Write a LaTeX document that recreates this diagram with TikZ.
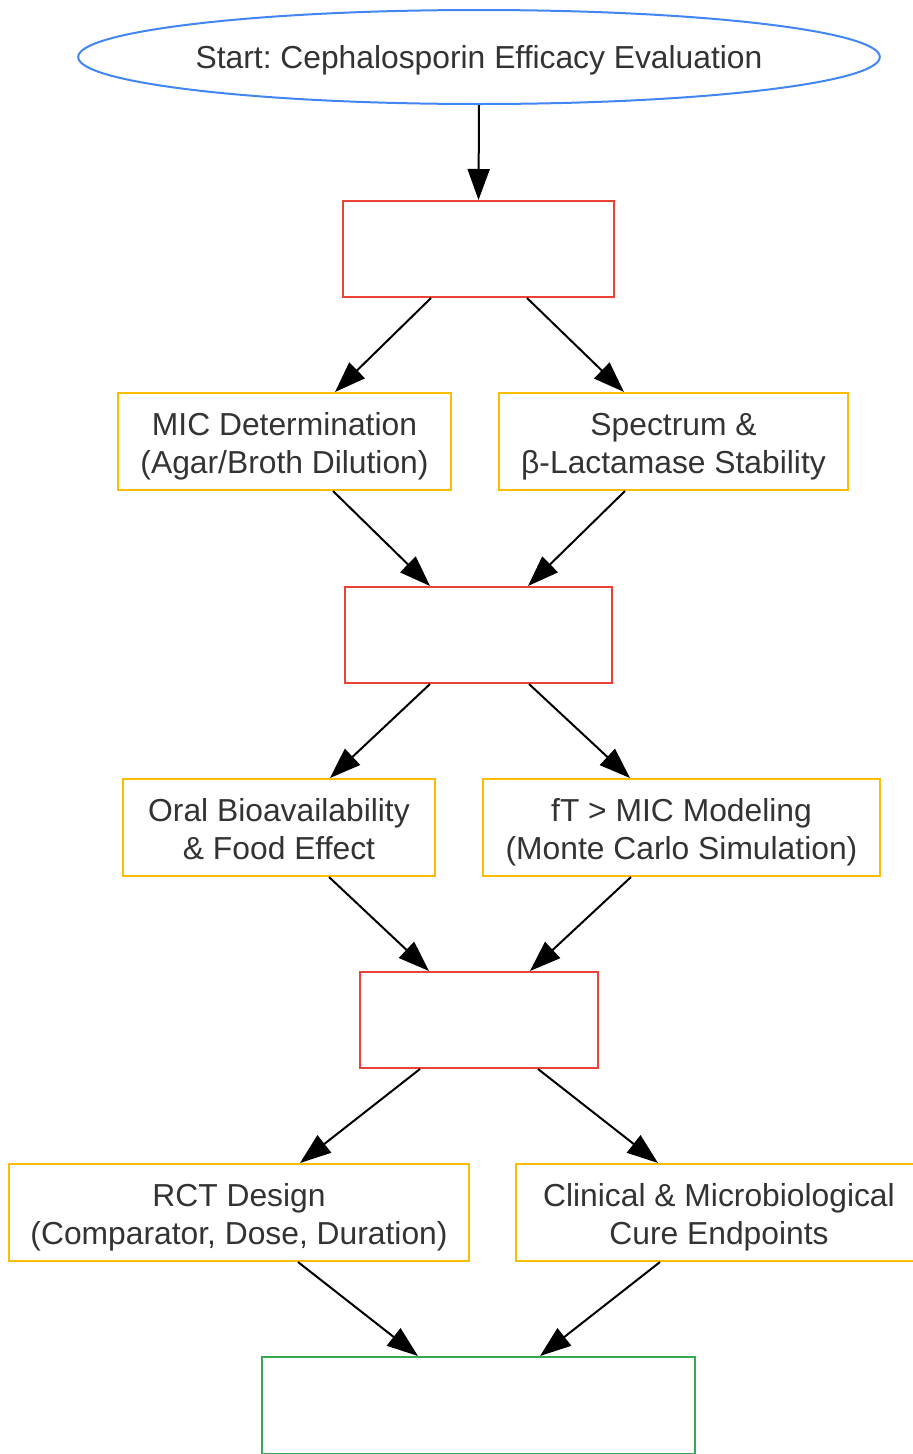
\documentclass[tikz,border=0pt]{standalone}
\usepackage{fontspec}
\setmainfont{Liberation Sans}
\frenchspacing
\usetikzlibrary{shapes.geometric,arrows.meta,calc}
\definecolor{gblue}{HTML}{4285F4}
\definecolor{gred}{HTML}{EA4335}
\definecolor{gyellow}{HTML}{FBBC04}
\definecolor{ggreen}{HTML}{34A853}
\definecolor{txt}{HTML}{333333}
\newcommand{\toppad}{\rule{0pt}{33.5pt}}
\newcommand{\botpad}{\rule[-6.8pt]{0pt}{6.8pt}}
\begin{document}
\begin{tikzpicture}[x=1pt,y=-1pt,
  every node/.style={font=\fontsize{31.8}{38}\selectfont, text=txt, align=center, line width=2pt, inner sep=0pt},
  startnode/.style={ellipse, draw=gblue, minimum width=782pt, minimum height=94pt},
  phase/.style={rectangle, draw=gred, minimum height=96pt},
  task/.style={rectangle, draw=gyellow, minimum height=97pt},
  endbox/.style={rectangle, draw=ggreen, minimum height=97pt},
  conn/.style={draw=black, line width=2pt, -{Triangle[length=31pt,width=22pt]}}]
\useasboundingbox (0,0) rectangle (913,1454);
\node[startnode] (start) at (479,57) {\rule{0pt}{30pt}Start: Cephalosporin Efficacy Evaluation};
\node[phase, minimum width=271pt] (b1) at (478.5,249) {};
\node[task, minimum width=333pt] (mic) at (284.5,441.5) {\toppad MIC Determination\\(Agar/Broth Dilution)\botpad};
\node[task, minimum width=349pt] (spec) at (673.5,441.5) {\toppad Spectrum \&\\β-Lactamase Stability\botpad};
\node[phase, minimum width=267pt] (b2) at (478.5,635) {};
\node[task, minimum width=312pt] (oral) at (279,827.5) {\toppad Oral Bioavailability\\\& Food Effect\botpad};
\node[task, minimum width=397pt] (ft) at (681.5,827.5) {\toppad fT > MIC Modeling\\(Monte Carlo Simulation)\botpad};
\node[phase, minimum width=238pt] (b3) at (479,1020) {};
\node[task, minimum width=460pt] (rct) at (239,1212.5) {\toppad RCT Design\\(Comparator, Dose, Duration)\botpad};
\node[task, minimum width=406pt] (clin) at (719,1212.5) {\toppad Clinical \& Microbiological\\Cure Endpoints\botpad};
\node[endbox, minimum width=433pt] (fin) at (478.5,1405.5) {};
\draw[conn] (start.south) -- (b1.north);
\draw[conn] ($(b1.south)+(-47.5,0)$) -- ($(mic.north)+(50.5,0)$);
\draw[conn] ($(b1.south)+(48.5,0)$) -- ($(spec.north)+(-49.5,0)$);
\draw[conn] ($(mic.south)+(48.5,0)$) -- ($(b2.north)+(-48.5,0)$);
\draw[conn] ($(spec.south)+(-48.5,0)$) -- ($(b2.north)+(49.5,0)$);
\draw[conn] ($(b2.south)+(-48.5,0)$) -- ($(oral.north)+(51,0)$);
\draw[conn] ($(b2.south)+(50.5,0)$) -- ($(ft.north)+(-51.5,0)$);
\draw[conn] ($(oral.south)+(50,0)$) -- ($(b3.north)+(-50,0)$);
\draw[conn] ($(ft.south)+(-50.5,0)$) -- ($(b3.north)+(51,0)$);
\draw[conn] ($(b3.south)+(-59,0)$) -- ($(rct.north)+(61,0)$);
\draw[conn] ($(b3.south)+(59,0)$) -- ($(clin.north)+(-61,0)$);
\draw[conn] ($(rct.south)+(59,0)$) -- ($(fin.north)+(-60.5,0)$);
\draw[conn] ($(clin.south)+(-59,0)$) -- ($(fin.north)+(61.5,0)$);
\end{tikzpicture}
\end{document}
